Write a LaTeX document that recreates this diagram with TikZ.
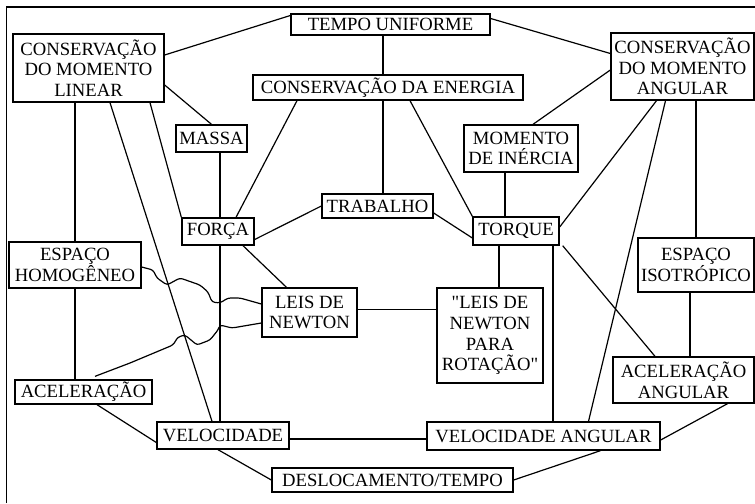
\documentclass[tikz,border=0pt]{standalone}
\usepackage{fontspec}
\setmainfont{Liberation Serif}[Ligatures=TeXOff]
\begin{document}
\begin{tikzpicture}[
    x=0.75pt, y=-0.75pt,
    concept/.style={rectangle, draw, line width=1pt, align=center, inner sep=0pt, font=\fontsize{14}{15.5}\selectfont},
    boxsize/.style 2 args={minimum width=#1*0.75pt, minimum height=#2*0.75pt},
    link/.style={line width=0.9pt},
    wiggle/.style={line width=0.9pt, rounded corners=2pt}
]
\useasboundingbox (0,0) rectangle (755,503);
\draw[line width=1pt] (6.5,503) -- (6.5,7) -- (755,7);

% Conservation laws and symmetries
\node[concept, boxsize={199}{21}] (tempo) at (390.5,24.5) {TEMPO UNIFORME};
\node[concept, boxsize={151}{68}] (cml) at (88.5,68) {CONSERVAÇÃO\\DO MOMENTO\\LINEAR};
\node[concept, boxsize={270}{25}] (energia) at (388,87.5) {CONSERVAÇÃO DA ENERGIA};
\node[concept, boxsize={143}{67}] (cma) at (682.5,66.5) {CONSERVAÇÃO\\DO MOMENTO\\ANGULAR};
\node[concept, boxsize={132}{46}] (esphom) at (75,265) {ESPAÇO\\HOMOGÊNEO};
\node[concept, boxsize={116}{54}] (espiso) at (696,265) {ESPAÇO\\ISOTRÓPICO};

% Linear quantities
\node[concept, boxsize={71}{27}] (massa) at (211.5,138.5) {MASSA};
\node[concept, boxsize={72}{27}] (forca) at (218,231.5) {FORÇA};
\node[concept, boxsize={111}{24}] (trabalho) at (377.5,206) {TRABALHO};
\node[concept, boxsize={95}{49}] (leis) at (309.5,312.5) {LEIS DE\\NEWTON};
\node[concept, boxsize={137}{24}] (acel) at (83.5,392) {ACELERAÇÃO};
\node[concept, boxsize={132}{27}] (vel) at (223,435.5) {VELOCIDADE};
\node[concept, boxsize={241}{24}] (desl) at (392.5,480) {DESLOCAMENTO/TEMPO};

% Angular quantities
\node[concept, boxsize={114}{47}] (inercia) at (521,148.5) {MOMENTO\\DE INÉRCIA};
\node[concept, boxsize={86}{28}] (torque) at (516,231) {TORQUE};
\node[concept, boxsize={106}{95}] (leisrot) at (490,335.5) {"LEIS DE\\NEWTON\\PARA\\ROTAÇÃO"};
\node[concept, boxsize={141}{46}] (acelang) at (683.5,380) {ACELERAÇÃO\\ANGULAR};
\node[concept, boxsize={233}{28}] (velang) at (543.5,436) {VELOCIDADE ANGULAR};

% Connections from the top
\draw[link] ([shift={(0,-13)}]cml.east) -- ([shift={(0,-9)}]tempo.west);
\draw[link] ([shift={(0,-6)}]tempo.east) -- ([shift={(0,-13)}]cma.west);
\draw[link] ([shift={(-5,0)}]energia.south |- tempo.south) -- ([shift={(-5,0)}]energia.north);
\draw[link] ([shift={(0,17)}]cml.east) -- (massa.north);
\draw[link] (esphom.north |- cml.south) -- (esphom.north);
\draw[link] ([shift={(21.5,0)}]cml.south) -- ([shift={(-11,0)}]vel.north);
\draw[link] ([shift={(61.5,0)}]cml.south) -- (forca.north west);
\draw[link] ([shift={(2,0)}]forca.north |- massa.south) -- ([shift={(2,0)}]forca.north);
\draw[link] ([shift={(-91,0)}]energia.south) -- ([shift={(18,0)}]forca.north);
\draw[link] ([shift={(-5,0)}]energia.south) -- ([shift={(-5,0)}]energia.south |- trabalho.north);
\draw[link] ([shift={(22,0)}]energia.south) -- (torque.north west);
\draw[link] ([shift={(0,3.5)}]cma.west) -- ([shift={(12,0)}]inercia.north);
\draw[link] ([shift={(-26,0)}]cma.south) -- ([shift={(0,-4)}]torque.east);
\draw[link] ([shift={(-17,0)}]cma.south) -- ([shift={(45,0)}]velang.north);
\draw[link] (espiso.north |- cma.south) -- (espiso.north);

% Middle connections
\draw[link] ([shift={(0,8)}]forca.east) -- (trabalho.west);
\draw[link] ([shift={(0,7)}]trabalho.east) -- ([shift={(0,7)}]torque.west);
\draw[link] ([shift={(2,0)}]forca.south) -- ([shift={(2,0)}]forca.south |- vel.north);
\draw[link] ([shift={(25,0)}]forca.south) -- ([shift={(-23,0)}]leis.north);
\draw[link] ([shift={(-16,0)}]inercia.south) -- ([shift={(-16,0)}]inercia.south |- torque.north);
\draw[link] ([shift={(-17,0)}]torque.south) -- ([shift={(-17,0)}]torque.south |- leisrot.north);
\draw[link] ([shift={(37,0)}]torque.south) -- ([shift={(37,0)}]torque.south |- velang.north);
\draw[link] ([shift={(3,0)}]torque.south east) -- ([shift={(-28.5,0)}]acelang.north);
\draw[link] ([shift={(-6,0)}]espiso.south) -- ([shift={(-6,0)}]espiso.south |- acelang.north);
\draw[link] ([shift={(0,-3)}]leis.east) -- ([shift={(0,-3)}]leis.east -| leisrot.west);
\draw[link] (esphom.south) -- (esphom.south |- acel.north);
\draw[wiggle] ([shift={(0,2)}]esphom.east) -- (153,270) -- (157,278) -- (167,285) -- (180,278)
    -- (200,285) -- (208,292) -- (212,302) -- (220,303) -- (228,298) -- (240,298)
    -- ([shift={(0,-8.5)}]leis.west);
\draw[wiggle] ([shift={(11.5,-3)}]acel.north) -- (130,363) -- (173,345) -- (178,337) -- (185,335)
    -- (197,345) -- (210,340) -- (218,330) -- (220,325) -- (232,328)
    -- ([shift={(0,10.5)}]leis.west);

% Bottom connections
\draw[link] ([shift={(13.5,0)}]acel.south) -- ([shift={(0,7)}]vel.west);
\draw[link] ([shift={(0,3.5)}]vel.east) -- ([shift={(0,3.5)}]vel.east -| velang.west);
\draw[link] ([shift={(-5,0)}]vel.south) -- (desl.west);
\draw[link] ([shift={(57,0)}]velang.south) -- (desl.east);
\draw[link] ([shift={(44,0)}]acelang.south) -- ([shift={(0,4)}]velang.east);

\end{tikzpicture}
\end{document}
